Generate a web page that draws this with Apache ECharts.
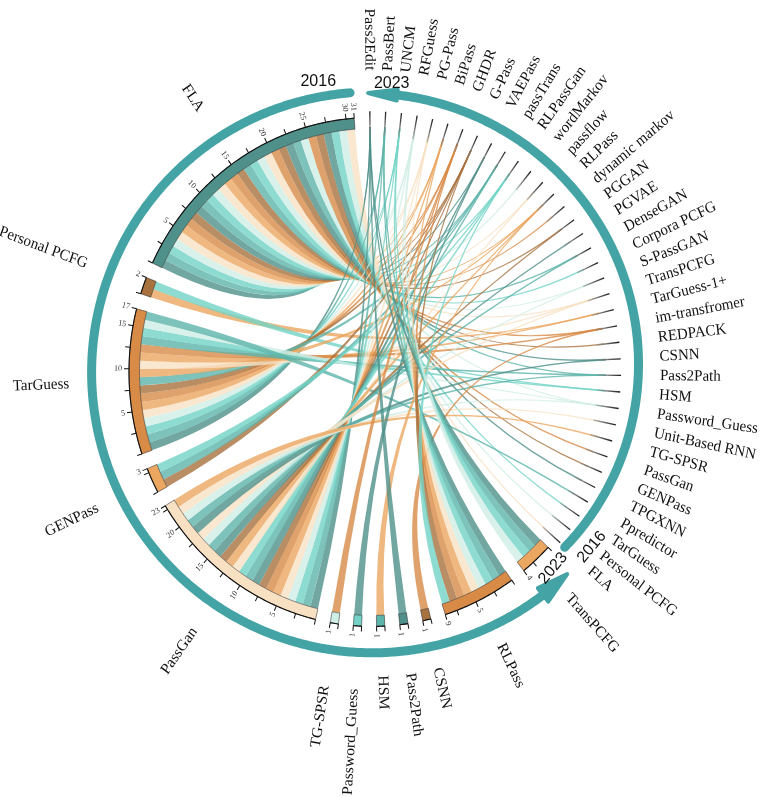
<!DOCTYPE html>
<html><head><meta charset="utf-8">
<script src="https://cdn.jsdelivr.net/npm/echarts@6/dist/echarts.min.js"></script>
<style>html,body{margin:0;padding:0;background:#fff}#c{width:764px;height:797px}</style>
</head><body><div id="c"></div>
<script>
// ---------------- data ----------------
const sources = ['FLA','Personal PCFG','TarGuess','GENPass','PassGan','TG-SPSR','Password_Guess','HSM','Pass2Path','CSNN','RLPass','TransPCFG'];
const targets = ['Pass2Edit','PassBert','UNCM','RFGuess','PG-Pass','BiPass','GHDR','G-Pass','VAEPass','passTrans','RLPassGan','wordMarkov','passflow','RLPass','dynamic markov','PGGAN','PGVAE','DenseGAN','Corpora PCFG','S-PassGAN','TransPCFG','TarGuess-1+','im-transfromer','REDPACK','CSNN','Pass2Path','HSM','Password_Guess','Unit-Based RNN','TG-SPSR','PassGan','GENPass','TPGXNN','Ppredictor','TarGuess','Personal PCFG','FLA'];

const cites_FLA = ['Pass2Edit','PassBert','UNCM','RFGuess','PG-Pass','BiPass','GHDR','G-Pass','VAEPass','passTrans','RLPassGan','wordMarkov','passflow','RLPass','dynamic markov','PGGAN','DenseGAN','Corpora PCFG','S-PassGAN','TransPCFG','im-transfromer','REDPACK','CSNN','Pass2Path','Password_Guess','PassGan','GENPass','TPGXNN','TarGuess','Personal PCFG','FLA'];
const cites_PersonalPCFG = ['TarGuess-1+','HSM'];
const cites_TarGuess = ['Pass2Edit','PassBert','UNCM','RFGuess','PG-Pass','BiPass','GHDR','G-Pass','passTrans','RLPass','Ppredictor','TransPCFG','TarGuess-1+','im-transfromer','Pass2Path','HSM','Password_Guess'];
const cites_GENPass = ['G-Pass','passTrans','RLPassGan'];
const cites_PassGan = ['Pass2Edit','PassBert','UNCM','RFGuess','PG-Pass','BiPass','GHDR','G-Pass','VAEPass','passTrans','RLPassGan','passflow','RLPass','PGGAN','PGVAE','DenseGAN','S-PassGAN','TransPCFG','TG-SPSR','CSNN','Pass2Path','Password_Guess','Unit-Based RNN'];
const cites_TGSPSR = ['GHDR'];
const cites_PasswordGuess = ['VAEPass'];
const cites_HSM = ['RLPass'];
const cites_Pass2Path = ['Pass2Edit'];
const cites_CSNN = ['im-transfromer'];
const cites_RLPass = ['Pass2Edit','PassBert','UNCM','RFGuess','PG-Pass','BiPass','GHDR','G-Pass','RLPassGan'];
const cites_TransPCFG = ['Pass2Edit','PassBert','UNCM','RFGuess'];
const sourceCites = [cites_FLA, cites_PersonalPCFG, cites_TarGuess, cites_GENPass, cites_PassGan, cites_TGSPSR,
  cites_PasswordGuess, cites_HSM, cites_Pass2Path, cites_CSNN, cites_RLPass, cites_TransPCFG];

const yearTexts = ['2016','2023','2016','2023'];

// ---------------- layout / style ----------------
const PALETTE = ['#4f908a','#a8723e','#d88b47','#eba660','#f8e1c3','#cfeee6','#72d3c6','#5db4aa'];
const RING_COLOR = '#44a3a5';
const CX = 372, CY = 372, SY = 1.047;
const R_IN = 232.5, R_OUT = 243, TICK = 5, T_IN = 226, T_OUT = 249, RIB_T = 234, TW = 0.18;
const SRC_END = 355.8, UNIT = 1.95, GAP = 3.54, TGT_START = -0.5, TGT_STEP = 3.65;
const LBL_T = 288, LBL_IN = 303, LBL_OUT = 290, TLBL = 250;
// ring: start angle, end angle (arrow tip), start radius, end radius, arrow half width, arrow length (deg)
const rings = [[355.5, 136, 280, 281, 8.5, 6.5], [132.3, -0.8, 260.5, 279, 5.5, 6]];
const yearPos = [[295, 349.5, 0], [289.5, 3.9, 0], [281, 128.5, 50], [267, 137.3, 50]];
const SERIF = '"Liberation Serif","Times New Roman",serif';

// ---------------- derived ----------------
const norm = a => ((a % 360) + 360) % 360;
const tAngle = k => TGT_START + k * TGT_STEP;
const targetNode = k => sources.length + (targets.length - 1 - k);

const bandData = [], tickData = [], ribbonData = [], srcLabelData = [];
let cur = SRC_END;
sources.forEach((s, i) => {
  const list = sourceCites[i].map(n => targets.indexOf(n)).sort((a, b) => a - b);
  const n = list.length, end = cur, start = cur - n * UNIT;
  bandData.push([start, end, i % 8]);
  srcLabelData.push([(start + end) / 2, i]);
  const vals = [];
  for (let v = 0; v < n - 1e-6; v += 2.5) vals.push(v);
  vals.push(n);
  vals.forEach(v => tickData.push([start + v * UNIT, v, (v > 0 && (v % 5 === 0 || v === n)) ? 1 : 0]));
  list.forEach((k, j) => ribbonData.push([start + j * UNIT, start + (j + 1) * UNIT, tAngle(k), targetNode(k) % 8]));
  cur = start - GAP;
});
const targetData = targets.map((t, k) => [tAngle(k), k]);

// ---------------- helpers ----------------
const fmt = p => p[0].toFixed(2) + ' ' + p[1].toFixed(2);
function arcPts(api, r, a0, a1, step) {
  const n = Math.max(1, Math.ceil(Math.abs(a1 - a0) / step)), pts = [];
  for (let i = 0; i <= n; i++) pts.push(api.coord([r, norm(a0 + (a1 - a0) * i / n)]));
  return pts;
}
function stretch(api, children) {
  const c = api.coord([0, 0]);
  return { type: 'group', originX: c[0], originY: c[1], scaleY: SY, children };
}
const rad = d => d * Math.PI / 180;
function radialText(api, text, r, a, inwardR, font, fill) {
  const an = norm(a);
  if (an > 180) {
    const p = api.coord([inwardR, an]);
    return { type: 'text', x: p[0], y: p[1], rotation: rad(270 - an),
      style: { text, font, fill, align: 'right', verticalAlign: 'middle' } };
  }
  const p = api.coord([r, an]);
  return { type: 'text', x: p[0], y: p[1], rotation: rad(90 - an),
    style: { text, font, fill, align: 'left', verticalAlign: 'middle' } };
}

// ---------------- render items ----------------
function renderRibbon(params, api) {
  const a0 = api.value(0), a1 = api.value(1), t = api.value(2), ci = api.value(3);
  const s = arcPts(api, R_IN, a0, a1, 0.4);
  const c = api.coord([0, 0]);
  const t0 = api.coord([RIB_T, norm(t - TW)]), t1 = api.coord([RIB_T, norm(t + TW)]);
  let d = 'M' + fmt(s[0]);
  for (let i = 1; i < s.length; i++) d += ' L' + fmt(s[i]);
  d += ' Q' + fmt(c) + ' ' + fmt(t0) + ' L' + fmt(t1) + ' Q' + fmt(c) + ' ' + fmt(s[0]) + ' Z';
  return stretch(api, [{ type: 'path', shape: { pathData: d },
    style: { fill: PALETTE[ci], opacity: 0.8 } }]);
}
function renderBand(params, api) {
  const a0 = api.value(0), a1 = api.value(1), ci = api.value(2);
  const o = arcPts(api, R_OUT, a0, a1, 0.4), inn = arcPts(api, R_IN, a1, a0, 0.4);
  let d = 'M' + fmt(o[0]);
  for (let i = 1; i < o.length; i++) d += ' L' + fmt(o[i]);
  inn.forEach(p => d += ' L' + fmt(p));
  d += ' Z';
  return stretch(api, [
    { type: 'path', shape: { pathData: d }, style: { fill: PALETTE[ci], stroke: 'rgba(40,40,40,0.75)', lineWidth: 0.7 } },
    { type: 'polyline', shape: { points: o }, style: { stroke: '#111', lineWidth: 1.1, fill: null } }
  ]);
}
function renderTick(params, api) {
  const a = api.value(0), v = api.value(1), lab = api.value(2);
  const p0 = api.coord([R_OUT, norm(a)]), p1 = api.coord([R_OUT + TICK, norm(a)]);
  const ch = [{ type: 'line', shape: { x1: p0[0], y1: p0[1], x2: p1[0], y2: p1[1] }, style: { stroke: '#111', lineWidth: 1 } }];
  if (lab) ch.push(radialText(api, String(v), TLBL, a, TLBL, '8px ' + SERIF, '#333'));
  return stretch(api, ch);
}
function renderTarget(params, api) {
  const a = norm(api.value(0)), k = api.value(1);
  const pi = api.coord([T_IN, a]), po = api.coord([T_OUT, a]);
  return stretch(api, [
    { type: 'line', shape: { x1: pi[0], y1: pi[1], x2: po[0], y2: po[1] },
      style: { lineWidth: 1.3, stroke: { type: 'linear', x: pi[0], y: pi[1], x2: po[0], y2: po[1], global: true,
        colorStops: [{ offset: 0, color: 'rgba(140,140,140,0.5)' }, { offset: 0.5, color: '#666' }, { offset: 1, color: '#1a1a1a' }] } } },
    radialText(api, targets[k], LBL_T, a, LBL_T, '15px ' + SERIF, '#111')
  ]);
}
function renderSrcLabel(params, api) {
  const a = api.value(0), i = api.value(1);
  return stretch(api, [radialText(api, sources[i], LBL_OUT, a, LBL_IN, '15px ' + SERIF, '#111')]);
}
function renderRing(params, api) {
  const a0 = api.value(0), a1 = api.value(1), r0 = api.value(2), r1 = api.value(3), hw = api.value(4), alen = api.value(5);
  const rAt = a => r0 + (r1 - r0) * (a - a0) / (a1 - a0);
  const dir = Math.sign(a1 - a0);
  const base = a1 - dir * alen, lineEnd = a1 - dir * (alen - 1);
  const n = Math.ceil(Math.abs(lineEnd - a0) / 0.5), pts = [];
  for (let i = 0; i <= n; i++) { const a = a0 + (lineEnd - a0) * i / n; pts.push(api.coord([rAt(a), norm(a)])); }
  const tip = api.coord([rAt(a1), norm(a1)]);
  const b1 = api.coord([rAt(base) + hw, norm(base)]), b2 = api.coord([rAt(base) - hw, norm(base)]);
  return { type: 'group', children: [
    { type: 'polyline', shape: { points: pts }, style: { stroke: RING_COLOR, lineWidth: 9, lineCap: 'round', fill: null } },
    { type: 'polygon', shape: { points: [b1, tip, b2] }, style: { fill: RING_COLOR, stroke: RING_COLOR, lineWidth: 4, lineJoin: 'round' } }
  ] };
}
function renderYear(params, api) {
  const r = api.value(0), a = api.value(1), rot = api.value(2), i = api.value(3);
  const p = api.coord([r, norm(a)]);
  return { type: 'text', x: p[0], y: p[1], rotation: rad(rot),
    style: { text: yearTexts[i], font: '16px "Liberation Sans",Arial,sans-serif', fill: '#111', align: 'center', verticalAlign: 'middle' } };
}

// ---------------- chart ----------------
const chart = echarts.init(document.getElementById('c'), null, { renderer: 'canvas' });
const base = { type: 'custom', coordinateSystem: 'polar', silent: true, animation: false };
chart.setOption({
  backgroundColor: '#ffffff',
  animation: false,
  polar: { center: [CX, CY], radius: 300 },
  angleAxis: { type: 'value', min: 0, max: 360, startAngle: 90, clockwise: true, show: false,
    axisLine: { show: false }, axisTick: { show: false }, axisLabel: { show: false }, splitLine: { show: false } },
  radiusAxis: { type: 'value', min: 0, max: 300, show: false,
    axisLine: { show: false }, axisTick: { show: false }, axisLabel: { show: false }, splitLine: { show: false } },
  series: [
    Object.assign({ name: 'ribbons', renderItem: renderRibbon, data: ribbonData }, base),
    Object.assign({ name: 'targets', renderItem: renderTarget, data: targetData }, base),
    Object.assign({ name: 'bands', renderItem: renderBand, data: bandData }, base),
    Object.assign({ name: 'ticks', renderItem: renderTick, data: tickData }, base),
    Object.assign({ name: 'sourceLabels', renderItem: renderSrcLabel, data: srcLabelData }, base),
    Object.assign({ name: 'rings', renderItem: renderRing, data: rings }, base),
    Object.assign({ name: 'years', renderItem: renderYear, data: yearPos.map((p, i) => [p[0], p[1], p[2], i]) }, base)
  ]
});
</script></body></html>
